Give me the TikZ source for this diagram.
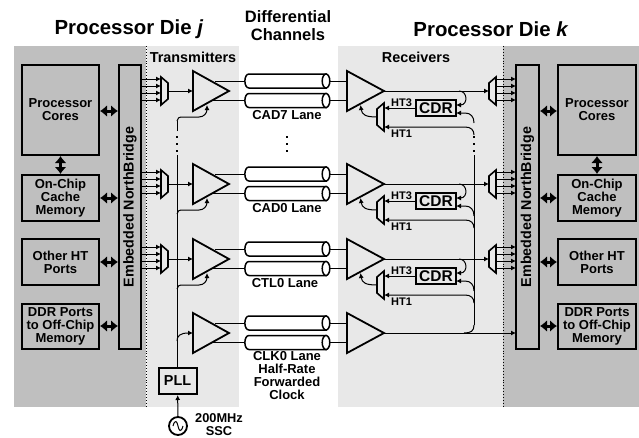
\documentclass[tikz,border=0pt]{standalone}
\usepackage{fontspec}
\setmainfont{Liberation Sans}
\usetikzlibrary{arrows.meta,calc}
\definecolor{dkg}{gray}{0.75}
\definecolor{ltg}{gray}{0.91}
\definecolor{boxg}{gray}{0.75}
\tikzset{
 x=1pt,y=-1pt,
 every node/.style={font=\bfseries\fontsize{13}{13}\selectfont,inner sep=0,align=center},
 blockbox/.style={draw=black,line width=2pt,fill=boxg,inner sep=0},
 wire/.style={line width=1pt,-{Latex[length=5pt,width=5pt]}},
 plain/.style={line width=1pt},
 fat/.style={line width=3pt,{Latex[length=7pt,width=12pt]}-{Latex[length=7pt,width=12pt]}},
 tri/.style={draw=black,line width=1.8pt,fill=ltg,line join=miter},
 muxs/.style={draw=black,line width=1.6pt,fill=ltg},
 dotv/.style={line width=1.6pt,dash pattern=on 1.6pt off 5.4pt},
 title/.style={font=\bfseries\fontsize{20.4}{21}\selectfont},
 head/.style={font=\bfseries\fontsize{16.5}{18}\selectfont},
 sub/.style={font=\bfseries\fontsize{14.4}{15}\selectfont},
 cdrtext/.style={font=\bfseries\fontsize{15.5}{16}\selectfont},
 small/.style={font=\bfseries\fontsize{11}{11}\selectfont},
 ssctext/.style={font=\bfseries\fontsize{12.8}{12.5}\selectfont},
 nbtext/.style={rotate=90,font=\bfseries\fontsize{14.3}{15}\selectfont},
}
\begin{document}
\begin{tikzpicture}
\useasboundingbox (0,0) rectangle (639,437);
\fill[dkg] (14,46) rectangle (146,407);
\fill[dkg] (503,46) rectangle (639,407);
\fill[ltg] (147,46) rectangle (239,407);
\fill[ltg] (338,46) rectangle (503,407);
\draw[line width=0.9pt,dotted] (146.5,46) -- (146.5,408);
\draw[line width=0.9pt,dotted] (503,46) -- (503,407);
% titles
\node[title] (tj) at (129,29) {Processor Die \textit{j}};
\node[title] (tk) at (491,29) {Processor Die \textit{k}};
\node[head] (dc) at (288,26) {Differential\\Channels};
\node[sub] (tx) at (193,57) {Transmitters};
\node[sub] (rx) at (416,57) {Receivers};
% blocks
\foreach \n/\a/\b/\t in {pc/65/155/{Processor\\Cores},oc/175/221/{On-Chip\\Cache\\Memory},ht/239/285/{Other HT\\Ports},dd/304/349/{DDR Ports\\to Off-Chip\\Memory}}{
 \draw[blockbox] (22,\a) rectangle (99,\b);
 \node (l\n) at (60.5,{(\a+\b)/2}) {\t};
 \draw[blockbox] (558,\a) rectangle (636,\b);
 \node (r\n) at (597,{(\a+\b)/2}) {\t};
}
\draw[blockbox] (119,65) rectangle (141,349);
\draw[blockbox] (516,65) rectangle (539,349);
\node[nbtext] (nl) at (130,207) {Embedded NorthBridge};
\node[nbtext] (nr) at (527.5,207) {Embedded NorthBridge};
% fat arrows
\foreach \y in {111,198,262,326}{
 \draw[fat] (100,\y) -- (118,\y);
 \draw[fat] (540,\y) -- (557,\y);
}
\draw[fat] (60.5,156) -- (60.5,174);
\draw[fat] (597,156) -- (597,174);
% lanes
\foreach \c in {91,184,259}{
 \foreach \d in {-12,-5,2,9}{\draw[wire] (141,\c+\d) -- (161,\c+\d);}
 \draw[muxs] (161,\c-14) -- (168,\c-8) -- (168,\c+8) -- (161,\c+14) -- cycle;
 \draw[wire] (168,\c) -- (193,\c);
 \draw[wire] (384,\c) -- (489,\c);
 \foreach \d in {-12,-5,2,9}{\draw[wire] (495,\c+\d) -- (516,\c+\d);}
 \draw[muxs] (496,\c-14) -- (489,\c-8) -- (489,\c+8) -- (496,\c+14) -- cycle;
 \draw[wire] (459,\c) .. controls (468,\c) and (468,\c+14) .. (456,\c+14);
 \draw[draw=black,line width=2pt,fill=ltg] (416,\c+9) rectangle (456,\c+25);
 \node[cdrtext] at (436,\c+17) {CDR};
 \draw[wire] (416,\c+17) -- (384,\c+17);
 \node[small,anchor=south west] at (391,\c+15.5) {HT3};
 \node[small,anchor=north west] at (391,\c+39) {HT1};
 \draw[muxs] (384,\c+12) -- (377,\c+18) -- (377,\c+34) -- (384,\c+40) -- cycle;
 \draw[wire] (377,\c+26) .. controls (366,\c+26) and (362,\c+24) .. (360.5,\c+14);
 \draw[wire] (177,\c+30) .. controls (177,\c+27) and (179,\c+26) .. (183,\c+26) -- (199,\c+26) .. controls (204,\c+26) and (207,\c+22) .. (207,\c+14);
}
% clock row tap
\draw[wire] (177,341) .. controls (177,336) and (180,333) .. (193,333);
% triangles and tubes
\foreach \c in {91,184,259,333}{
 \draw[line width=1pt] (215,\c-10) -- (245,\c-10);
 \draw[line width=1pt] (212,\c+9) -- (245,\c+9);
 \draw[line width=1pt] (329,\c-10) -- (347,\c-10);
 \draw[line width=1pt] (329,\c+9) -- (347,\c+9);
 \draw[tri] (193,\c-20) -- (229,\c) -- (193,\c+20) -- cycle;
 \draw[tri] (347,\c-20) -- (384,\c) -- (347,\c+20) -- cycle;
 \foreach \d in {-10,9.5}{
  \draw[line width=1.5pt,fill=white] (249,\c+\d-7) -- (326,\c+\d-7) -- (326,\c+\d+7) -- (249,\c+\d+7) .. controls (243.5,\c+\d+7) and (243.5,\c+\d-7) .. (249,\c+\d-7) -- cycle;
  \draw[line width=1.5pt,fill=white] (326,\c+\d) ellipse[x radius=3.8,y radius=7];
 }
}
% clock out
\draw[wire] (384,333) -- (516,333);
% clock lines
\draw[plain] (177,368) -- (177,155);
\draw[dotv] (177,136) -- (177,153);
\draw[plain] (177,131) -- (177,121);
\draw[plain] (474,325) -- (474,155);
\draw[dotv] (474,136) -- (474,153);
\draw[plain] (464,333) .. controls (471,333) and (474,331) .. (474,325);
\foreach \c in {91,184,259}{
 \draw[wire] (474,\c+32) .. controls (474,\c+26) and (471,\c+22) .. (465,\c+22) -- (456,\c+22);
 \draw[wire] (474,\c+44) .. controls (474,\c+39) and (471,\c+36) .. (465,\c+36) -- (384,\c+36);
}
% dots in channels
\draw[dotv] (287,136) -- (287,153);
% PLL
\node[draw=black,line width=2pt,fill=ltg,minimum width=38pt,minimum height=26pt,sub] (pll) at (177.5,381) {PLL};
% source
\node[draw=black,line width=1.8pt,circle,fill=white,minimum size=18pt] (src) at (178,426) {};
\draw[line width=1pt] (173,426) .. controls (175,419) and (177,421) .. (178,426) .. controls (179,431) and (181,433) .. (183,426);
\draw[wire] (src) -- (pll);
\node[ssctext] (ssc) at (219,424.5) {200MHz\\SSC};
% lane labels
\node (c7) at (287,115) {CAD7 Lane};
\node (c0) at (287,208) {CAD0 Lane};
\node (ct) at (285,283) {CTL0 Lane};
\node (ck) at (287,376) {CLK0 Lane\\Half-Rate\\Forwarded\\Clock};
\end{tikzpicture}
\end{document}
